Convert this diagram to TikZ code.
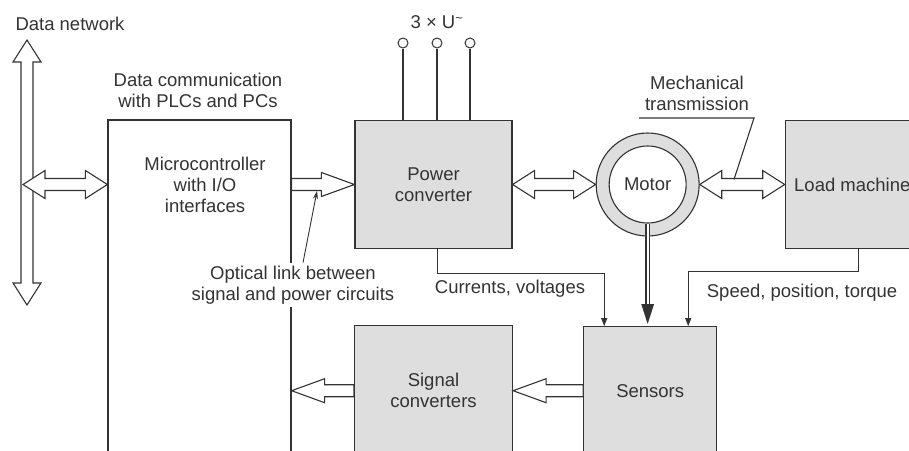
\documentclass[tikz,border=0pt]{standalone}
\usepackage{fontspec}
\setmainfont{Liberation Sans}
\usetikzlibrary{calc,positioning,arrows.meta}
\definecolor{LineGray}{HTML}{333333}
\definecolor{BoxGray}{HTML}{DEDEDE}

\newcommand{\onewayarrow}[2]{%
	\coordinate (hb) at ($(#2)!33pt!(#1)$);
	\draw[hollow] ($(#1)!6pt!90:(#2)$) -- ($(hb)!6pt!-90:(#1)$) -- ($(hb)!12pt!-90:(#1)$) -- (#2)
		-- ($(hb)!12pt!90:(#1)$) -- ($(hb)!6pt!90:(#1)$) -- ($(#1)!6pt!-90:(#2)$) -- cycle;}
\newcommand{\twowayarrow}[2]{%
	\coordinate (ha) at ($(#1)!22pt!(#2)$);
	\coordinate (hb) at ($(#2)!22pt!(#1)$);
	\draw[hollow] (#1) -- ($(ha)!14pt!90:(#2)$) -- ($(ha)!6pt!90:(#2)$) -- ($(hb)!6pt!-90:(#1)$)
		-- ($(hb)!14pt!-90:(#1)$) -- (#2) -- ($(hb)!14pt!90:(#1)$) -- ($(hb)!6pt!90:(#1)$)
		-- ($(ha)!6pt!-90:(#2)$) -- ($(ha)!14pt!-90:(#2)$) -- cycle;}

\begin{document}
\begin{tikzpicture}[x=1pt, y=-1pt,
				font=\fontsize{18.5}{21}\selectfont, text=LineGray,
				box/.style={draw=LineGray, fill=BoxGray, line width=1.2pt,
					align=center, inner sep=0pt},
				ring/.style={circle, draw=LineGray, fill=BoxGray, line width=1.1pt,
					minimum size=103pt, inner sep=0pt},
				hub/.style={circle, draw=LineGray, fill=white, line width=1.1pt,
					minimum size=77pt, inner sep=0pt},
				term/.style={circle, draw=LineGray, fill=white, line width=1pt,
					minimum size=10pt, inner sep=0pt},
				hollow/.style={draw=LineGray, fill=white, line width=1.1pt, line join=miter},
				wire/.style={draw=LineGray, line width=1.1pt},
				sig/.style={draw=LineGray, line width=1pt, -{Triangle[length=8pt,width=6pt]}},
				leader/.style={draw=LineGray, line width=0.9pt, -{Stealth[length=8pt,width=5pt]}},
				shaft/.style={draw=LineGray, line width=5pt, -{Triangle[length=22pt,width=11pt]}}
				]
				\useasboundingbox (0,0) rectangle (909,450);
				\node[box, fill=white, minimum width=183pt, minimum height=350pt] (mc) at (199.5,295) {};
				\node[align=center] (mctxt) at (205,185) {Microcontroller\\with I/O\\interfaces};
				\node[align=center] (dcom) at (198,90) {Data communication\\with PLCs and PCs};
				\node (dn) at (70,24) {Data network};
				\node[box, minimum width=157pt, minimum height=128pt] (pc) at (433.5,184.5) {Power\\converter};
				\node[ring, right=83pt of pc] (motor) {};
				\node[hub] (motorin) at (motor) {Motor};
				\node[box, minimum width=134pt, minimum height=128pt, right=85pt of motor] (lm) {Load machine};
				\node[box, minimum width=158pt, minimum height=130pt, below=76pt of pc] (sc) {Signal\\converters};
				\node[box, minimum width=133pt, minimum height=128pt, right=70pt of sc] (sens) {Sensors};
				\node (volt) at (437,22) {3 × U\textsuperscript{\textasciitilde}};
				\foreach \x/\n in {403/t1,437/t2,470/t3} {
					\node[term] (\n) at (\x,43) {};
					\draw[wire] (\n) -- (\n |- pc.north);
				}
				\coordinate (dntop) at (27,40);
				\coordinate (dnbot) at (27,305);
				\coordinate (dnmid) at (23,184.5);
				\coordinate (mcl) at (mc.west |- pc.west);
				\coordinate (mcr) at (mc.east |- pc.west);
				\coordinate (mcr2) at (mc.east |- sc.west);
				\twowayarrow{dntop}{dnbot}
				\twowayarrow{dnmid}{mcl}
				\onewayarrow{mcr}{pc.west}
				\twowayarrow{pc.east}{motor.west}
				\twowayarrow{motor.east}{lm.west}
				\onewayarrow{sens.west}{sc.east}
				\onewayarrow{sc.west}{mcr2}
				\draw[shaft] (motorin.south) -- (motorin.south |- sens.north);
				\draw[white, line width=2pt, shorten >=22pt] (motorin.south) -- (motorin.south |- sens.north);
				\draw[sig] ([xshift=3.5pt]pc.south) -- ++(0,24) -| ([xshift=-46pt]sens.north);
				\draw[sig] ([xshift=6pt]lm.south) -- ++(0,22) -| ([xshift=38pt]sens.north);
				\node (cv) at (510,289) {Currents, voltages};
				\node (spt) at (802,293) {Speed, position, torque};
				\node[align=center] (mt) at (697,93) {Mechanical\\transmission};
				\coordinate (mtl) at (639,118);
				\coordinate (mtk) at (754,118);
				\coordinate (mtend) at (734,179.5);
				\draw[wire] (mtl) -- (mtk) -- (mtend);
				\node[fill=white, align=center, inner sep=3pt] (ol) at (293,285) {Optical link between\\signal and power circuits};
				\coordinate (oltip) at (317,191);
				\draw[leader] ([xshift=10pt]ol.north) -- (oltip);
			\end{tikzpicture}
\end{document}
